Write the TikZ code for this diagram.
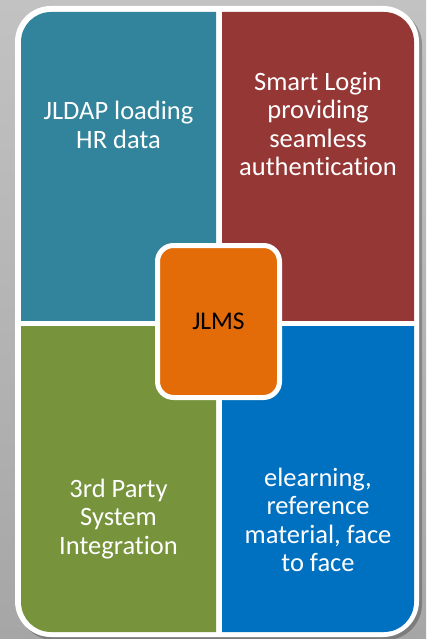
\documentclass[tikz,border=0pt]{standalone}
\usepackage{fontspec}
\setmainfont[Ligatures=NoCommon]{Carlito}
\usetikzlibrary{positioning, calc}
\definecolor{ldapteal}{HTML}{31849B}
\definecolor{loginred}{HTML}{953735}
\definecolor{partygreen}{HTML}{77933C}
\definecolor{learnblue}{HTML}{0070C0}
\definecolor{jlmsorange}{HTML}{E36C09}
\definecolor{bgtop}{HTML}{C2C2C2}
\definecolor{bgbottom}{HTML}{A6A6A6}
\tikzset{quadtext/.style={text=white, align=center, inner sep=0pt, font=\fontsize{26.5}{28.5}\selectfont}}
\tikzset{hub/.style={draw=white, line width=5pt, fill=jlmsorange, rounded corners=16pt,
    minimum width=122pt, minimum height=152pt, inner sep=0pt, font=\fontsize{25.5}{28.5}\selectfont}}

\begin{document}
\begin{tikzpicture}[x=1pt, y=-1pt]
  \useasboundingbox (0,0) rectangle (426,639);
  \shade[top color=bgtop, bottom color=bgbottom] (0,0) rectangle (426,639);
  \fill[black, opacity=.25, rounded corners=36pt] (18,9) rectangle (422,640);
  \fill[white, rounded corners=36pt] (15,6) rectangle (419,637);

  \foreach \col/\xa/\ya/\xb/\yb in {ldapteal/21/12/216/320, loginred/222/12/414/320,
      partygreen/21/326/216/632, learnblue/222/326/414/632}
  {
    \begin{scope}
      \clip (\xa,\ya) rectangle (\xb,\yb);
      \fill[\col, rounded corners=30pt] (21,12) rectangle (414,632);
    \end{scope}
  }

  \node[quadtext] (ldap) at (118.5,125) {JLDAP loading\\HR data};
  \node[quadtext] (login) at (318,124) {Smart Login\\providing\\seamless\\authentication};
  \node[quadtext] (party) at (118.5,519) {3rd Party\\System\\Integration};
  \node[quadtext] (learn) at (318,520) {elearning,\\reference\\material, face\\to face};

  \node[hub] (jlms) at (218.5,321.5) {JLMS};
\end{tikzpicture}
\end{document}
